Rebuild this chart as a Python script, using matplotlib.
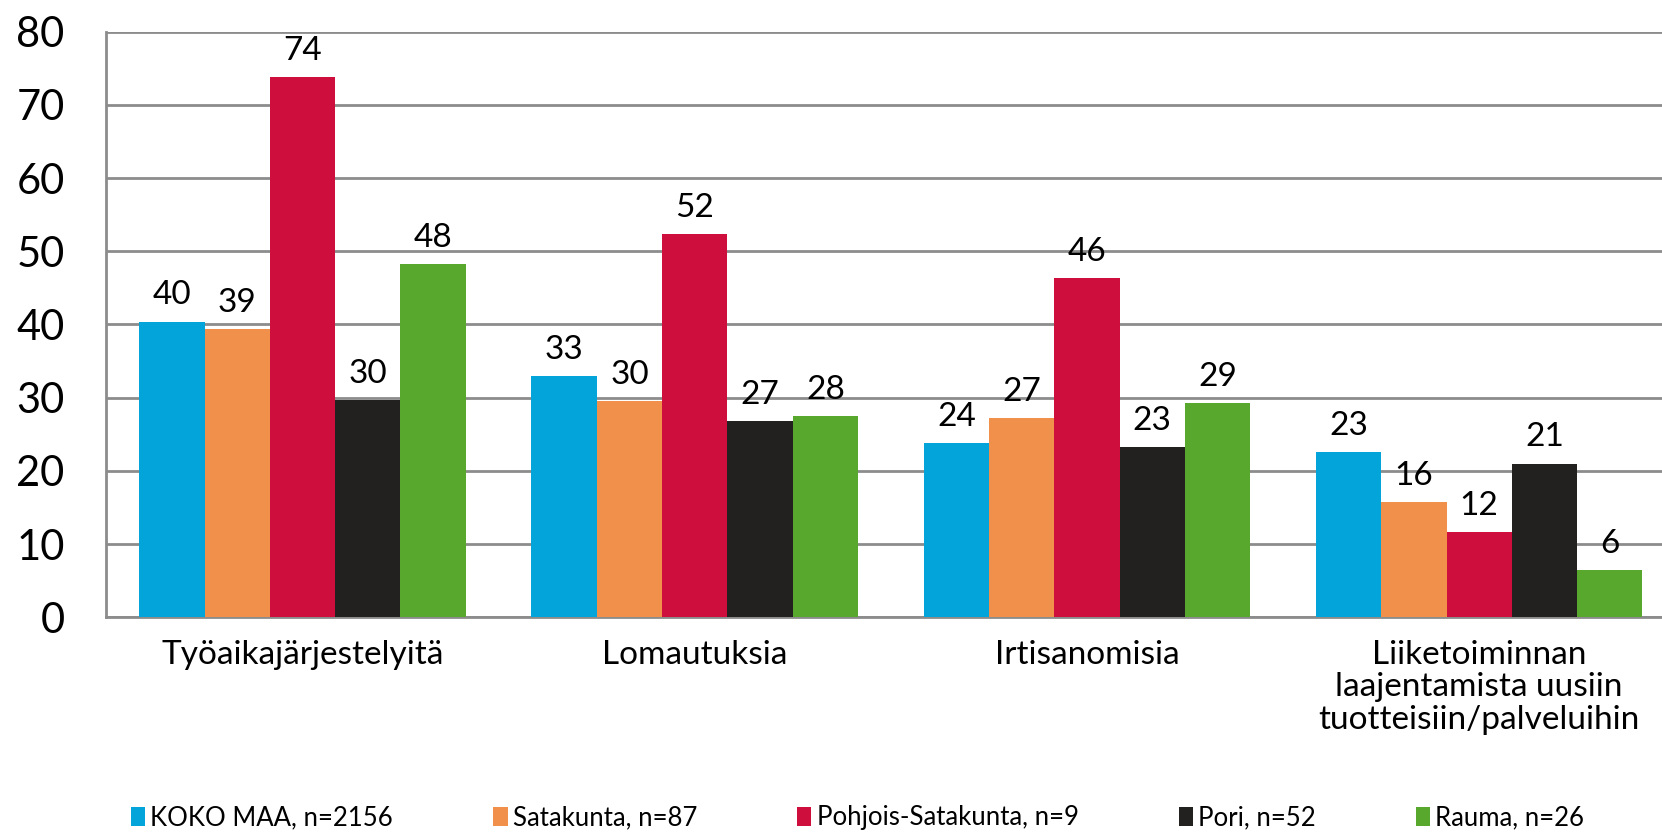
import matplotlib
matplotlib.use("Agg")
import matplotlib.pyplot as plt
import numpy as np

plt.rcParams['font.family'] = ['Lato', 'DejaVu Sans']

# data
categories = ['Työaikajärjestelyitä', 'Lomautuksia', 'Irtisanomisia',
              'Liiketoiminnan\nlaajentamista uusiin\ntuotteisiin/palveluihin']
series_names = ['KOKO MAA, n=2156', 'Satakunta, n=87', 'Pohjois-Satakunta, n=9',
                'Pori, n=52', 'Rauma, n=26']
koko_maa = [40.4, 32.9, 23.8, 22.6]
satakunta = [39.4, 29.6, 27.2, 15.8]
pohjois_satakunta = [73.8, 52.3, 46.4, 11.7]
pori = [29.7, 26.8, 23.2, 21.0]
rauma = [48.3, 27.5, 29.3, 6.4]
colors = ['#02A4D9', '#F0904B', '#CE0F3D', '#222120', '#58A82E']

all_series = [koko_maa, satakunta, pohjois_satakunta, pori, rauma]

fig = plt.figure(figsize=(16.62, 8.32), dpi=100)
ax = fig.add_axes([0.064, 0.258, 0.944, 0.704])

x = np.arange(len(categories))
w = 0.1665
for i, (vals, name, c) in enumerate(zip(all_series, series_names, colors)):
    pos = x + (i - 2) * w
    bars = ax.bar(pos, vals, w, color=c, label=name, zorder=3)
    for b, v in zip(bars, vals):
        ax.annotate('%.0f' % v, (b.get_x() + b.get_width() / 2, v),
                    xytext=(0, 8), textcoords='offset points',
                    ha='center', va='bottom', fontsize=24, color='black')

ax.set_xlim(-0.5, 3.5)
ax.set_ylim(0, 80)
ax.set_yticks(range(0, 81, 10))
ax.set_xticks(x)
ax.set_xticklabels(categories, fontsize=24, linespacing=1.12)
ax.tick_params(axis='y', length=0, labelsize=30, pad=30)
ax.tick_params(axis='x', length=0, pad=16)
ax.grid(axis='y', color='#8C8C8C', linewidth=2, zorder=0)
for s in ['top', 'right']:
    ax.spines[s].set_visible(False)
for s in ['left', 'bottom']:
    ax.spines[s].set_color('#8C8C8C')
    ax.spines[s].set_linewidth(2)

fig.legend(loc='center left', bbox_to_anchor=(0.065, 0.017), ncol=5,
           frameon=False, fontsize=18.5, handlelength=0.55, handleheight=0.75,
           handletextpad=0.2, columnspacing=3.9)

fig.savefig('out.png', dpi=100)
